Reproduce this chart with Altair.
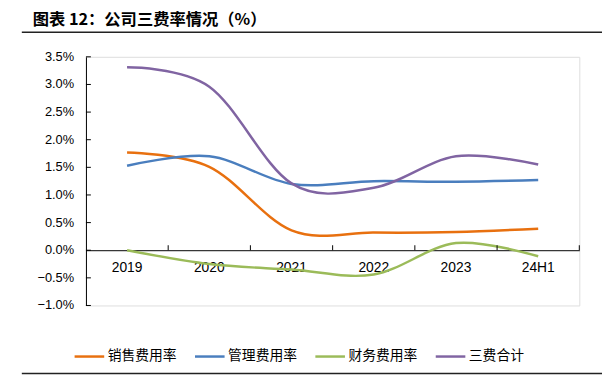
import altair as alt
import pandas as pd

years = ["2019", "2020", "2021", "2022", "2023", "24H1"]
series_names = ["销售费用率", "管理费用率", "财务费用率", "三费合计"]
sales = [1.77, 1.51, 0.36, 0.32, 0.33, 0.39]
admin = [1.53, 1.70, 1.20, 1.25, 1.24, 1.27]
finance = [0.00, -0.25, -0.35, -0.44, 0.13, -0.11]
total = [3.31, 2.96, 1.21, 1.13, 1.70, 1.55]
colors = ["#E8700F", "#4A7EBE", "#9BBB59", "#8064A2"]
y_ticks = [-1.0, -0.5, 0.0, 0.5, 1.0, 1.5, 2.0, 2.5, 3.0, 3.5]
y_tick_labels = ["−1.0%", "−0.5%", "0.0%", "0.5%", "1.0%", "1.5%", "2.0%", "2.5%", "3.0%", "3.5%"]
title_text = "图表 12：公司三费率情况（%）"

rows = []
for name, vals in zip(series_names, [sales, admin, finance, total]):
    for y, v in zip(years, vals):
        rows.append({"year": y, "series": name, "value": v})
df = pd.DataFrame(rows)
df_years = pd.DataFrame({"year": years})
df_ticks = pd.DataFrame({"value": y_ticks, "label": y_tick_labels})

W, H = 500, 252
ymin, ymax = -1.0, 3.5
zero_offset = -H * (0 - ymin) / (ymax - ymin)

xscale = alt.Scale(type="band", domain=years, paddingInner=0, paddingOuter=0)
yscale = alt.Scale(domain=[ymin, ymax], nice=False, zero=False)

x_axis = alt.Axis(orient="bottom", offset=zero_offset, title=None, labelAngle=0,
                  bandPosition=0.5, labelAlign="center",
                  ticks=False, domain=True, domainColor="#000000", domainWidth=1,
                  labelFont="Liberation Sans", labelFontSize=14, labelColor="#000000",
                  labelPadding=11, grid=False)
y_axis = alt.Axis(title=None, values=y_ticks, ticks=False, domain=True,
                  domainColor="#000000", domainWidth=1, grid=False, labels=False)

lines = alt.Chart(df).mark_line(strokeWidth=2.5, interpolate="cardinal").encode(
    x=alt.X("year:N", scale=xscale, bandPosition=0.5, sort=years, axis=x_axis),
    y=alt.Y("value:Q", scale=yscale, axis=y_axis),
    color=alt.Color("series:N", scale=alt.Scale(domain=series_names, range=colors),
                    sort=series_names,
                    legend=alt.Legend(orient="none", legendX=-13, legendY=287, direction="horizontal",
                                      title=None, symbolType="stroke", symbolSize=900,
                                      symbolStrokeWidth=2.5, labelFont="Noto Sans CJK SC",
                                      labelFontSize=14, labelColor="#000000", labelOffset=2,
                                      columnPadding=13)),
)

xticks = alt.Chart(df_years).mark_rule(color="#000000", strokeWidth=1).encode(
    x=alt.X("year:N", scale=xscale, bandPosition=1, sort=years, axis=x_axis),
    y=alt.datum(0.0),
    y2=alt.datum(0.09),
)

yticks = alt.Chart(df_ticks).mark_rule(color="#000000", strokeWidth=1).encode(
    y=alt.Y("value:Q", scale=yscale, axis=y_axis),
    x=alt.value(0),
    x2=alt.value(5),
)

ylabels = alt.Chart(df_ticks).mark_text(
    align="right", baseline="middle", font="Liberation Sans", fontSize=13, color="#000000"
).encode(
    y=alt.Y("value:Q", scale=yscale, axis=y_axis),
    x=alt.value(-12),
    text="label:N",
)

title = alt.Chart(pd.DataFrame({"t": [title_text]})).mark_text(
    align="left", baseline="middle", font="Noto Sans CJK SC", fontWeight="bold",
    fontSize=16.5, color="#000000"
).encode(text="t:N", x=alt.value(-54), y=alt.value(-37))

top_rule = alt.Chart(pd.DataFrame({"a": [0]})).mark_rule(color="#222222", strokeWidth=1.5).encode(
    x=alt.value(-65), x2=alt.value(523), y=alt.value(-25))
bottom_rule = alt.Chart(pd.DataFrame({"a": [0]})).mark_rule(color="#222222", strokeWidth=1.5).encode(
    x=alt.value(-65), x2=alt.value(523), y=alt.value(321))

chart = alt.layer(lines, yticks, xticks, ylabels, title, top_rule, bottom_rule).properties(
    width=W, height=H,
    padding={"left": 79, "top": 47, "right": 23, "bottom": 70},
    autosize=alt.AutoSizeParams(type="none"),
).configure_view(stroke=None).configure(background="#ffffff")

chart.save("out.html", embed_options={"renderer": "svg", "actions": False})
